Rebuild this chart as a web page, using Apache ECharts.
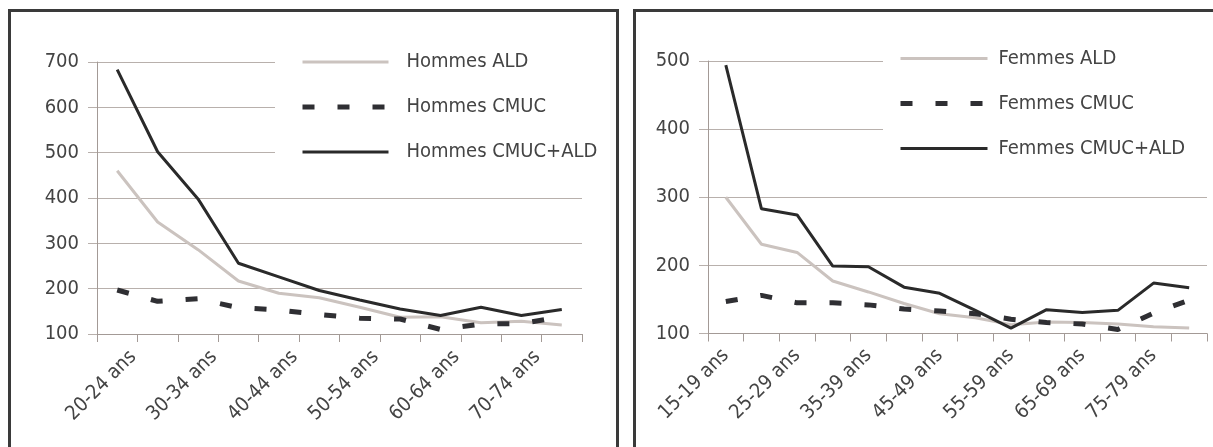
<!DOCTYPE html>
<html>
<head>
<meta charset="utf-8">
<script src="https://cdn.jsdelivr.net/npm/echarts@6/dist/echarts.min.js"></script>
<style>
  html, body { margin: 0; padding: 0; background: #fff; }
  #chart { width: 1213px; height: 447px; }
</style>
</head>
<body>
<div id="chart"></div>
<script>
// Age groups
const ageMen = ['20-24 ans', '25-29 ans', '30-34 ans', '35-39 ans', '40-44 ans', '45-49 ans',
  '50-54 ans', '55-59 ans', '60-64 ans', '65-69 ans', '70-74 ans', '75-79 ans'];
const ageWomen = ['15-19 ans', '20-24 ans', '25-29 ans', '30-34 ans', '35-39 ans', '40-44 ans',
  '45-49 ans', '50-54 ans', '55-59 ans', '60-64 ans', '65-69 ans', '70-74 ans', '75-79 ans', '80-84 ans'];

// Men
const menALD = [460, 347, 286, 217, 190, 180, 159, 137, 138, 125, 128, 120];
const menCMUC = [197, 172, 178, 158, 153, 143, 135, 133, 110, 122, 123, 138];
const menCMUCALD = [683, 502, 398, 256, 226, 196, 175, 155, 141, 159, 141, 154];

// Women
const womenALD = [300, 231, 219, 177, 161, 144, 129, 123, 113, 117, 116, 114, 110, 108];
const womenCMUC = [147, 156, 145, 145, 142, 136, 133, 129, 121, 116, 114, 106, 130, 149];
const womenCMUCALD = [494, 283, 274, 199, 198, 168, 159, 134, 108, 135, 131, 134, 174, 167];

// Value axis ticks
const yTicksMen = [100, 200, 300, 400, 500, 600, 700];
const yTicksWomen = [100, 200, 300, 400, 500];

const FONT = "'DejaVu Sans Condensed', 'Liberation Sans Narrow', sans-serif";
const FS = 20;
const TEXT = '#444444';
const GRID = '#b8b0ac';
const AXIS = '#a39a96';
const C_ALD = '#cbc3bf';
const C_CMUC = '#2f2f33';
const C_BOTH = '#2a2a2a';
const DASH = [12, 23];

function yAxis(idx, ticks) {
  return {
    type: 'value', gridIndex: idx,
    min: ticks[0], max: ticks[ticks.length - 1], interval: ticks[1] - ticks[0],
    axisLine: { show: true, lineStyle: { color: AXIS, width: 1 } },
    axisTick: { show: true, length: 9, lineStyle: { color: GRID } },
    splitLine: { show: true, lineStyle: { color: GRID, width: 1 } },
    axisLabel: { margin: 18, fontSize: FS, color: TEXT, fontFamily: FONT, padding: [0, 0, 10, 0] }
  };
}

function xAxis(idx, cats, labelOpts) {
  return {
    type: 'category', gridIndex: idx, data: cats, boundaryGap: true,
    axisLine: { show: true, lineStyle: { color: AXIS, width: 1 } },
    axisTick: { show: true, interval: 0, length: 8, lineStyle: { color: AXIS } },
    splitLine: { show: false },
    axisLabel: Object.assign({ interval: 1, rotate: 45, fontSize: FS, color: TEXT, fontFamily: FONT }, labelOpts)
  };
}

function lineSeries(name, axisIdx, data, color, width, dashed) {
  return {
    name, type: 'line', xAxisIndex: axisIdx, yAxisIndex: axisIdx, data,
    symbol: 'none', silent: true,
    lineStyle: { color, width, type: dashed ? DASH : 'solid', cap: 'butt' },
    itemStyle: { color }
  };
}

function legend(names, widths, left, top, padLeft, padRight, iconW, textPad) {
  return {
    orient: 'vertical', left, top,
    padding: [10, padRight, 10, padLeft],
    backgroundColor: '#fff',
    itemWidth: iconW, itemHeight: 14, itemGap: 21,
    selectedMode: false,
    itemStyle: { opacity: 0 },
    textStyle: { fontSize: FS, lineHeight: 24, color: TEXT, fontFamily: FONT, padding: [0, 0, 0, textPad] },
    data: names.map((n, i) => ({ name: n, lineStyle: { width: widths[i] } }))
  };
}

const chart = echarts.init(document.getElementById('chart'), null, { renderer: 'canvas' });
chart.setOption({
  animation: false,
  backgroundColor: '#fff',
  textStyle: { fontFamily: FONT },
  grid: [
    { left: 97, top: 62, width: 485, height: 272, containLabel: false, outerBoundsMode: 'none' },
    { left: 708, top: 61, width: 499, height: 272.5, containLabel: false, outerBoundsMode: 'none' }
  ],
  xAxis: [
    xAxis(0, ageMen, { margin: 4, verticalAlign: 'top', lineHeight: 45 }),
    xAxis(1, ageWomen, { margin: 19 })
  ],
  yAxis: [yAxis(0, yTicksMen), yAxis(1, yTicksWomen)],
  legend: [
    legend(['Hommes ALD', 'Hommes CMUC', 'Hommes CMUC+ALD'], [3, 5, 3], 275, 40, 25, 12, 86, 13),
    legend(['Femmes ALD', 'Femmes CMUC', 'Femmes CMUC+ALD'], [3, 5, 3], 883, 36.5, 15, 40, 87, 6)
  ],
  graphic: [
    { type: 'rect', silent: true, z: 10, shape: { x: 9.5, y: 10.5, width: 608, height: 500 },
      style: { fill: 'none', stroke: '#3a3a3a', lineWidth: 3 } },
    { type: 'rect', silent: true, z: 10, shape: { x: 634.5, y: 10.5, width: 700, height: 500 },
      style: { fill: 'none', stroke: '#3a3a3a', lineWidth: 3 } }
  ],
  series: [
    lineSeries('Hommes ALD', 0, menALD, C_ALD, 3, false),
    lineSeries('Hommes CMUC', 0, menCMUC, C_CMUC, 5, true),
    lineSeries('Hommes CMUC+ALD', 0, menCMUCALD, C_BOTH, 3, false),
    lineSeries('Femmes ALD', 1, womenALD, C_ALD, 3, false),
    lineSeries('Femmes CMUC', 1, womenCMUC, C_CMUC, 5, true),
    lineSeries('Femmes CMUC+ALD', 1, womenCMUCALD, C_BOTH, 3, false)
  ]
});
</script>
</body>
</html>
